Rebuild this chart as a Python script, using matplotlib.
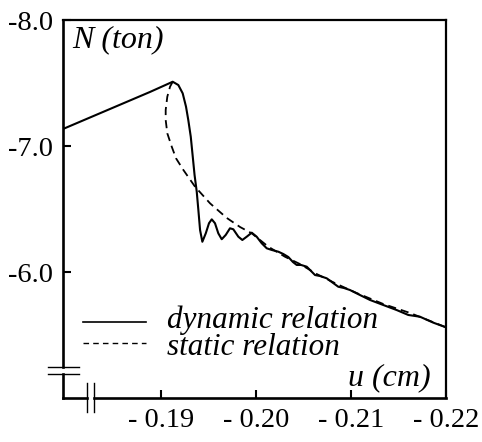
import matplotlib
matplotlib.use("Agg")
import matplotlib.pyplot as plt
from matplotlib.lines import Line2D

# ---- data ----
dyn_u = [-0.17968, -0.18884, -0.19123, -0.19182, -0.19228, -0.19263, -0.19287, -0.19313,
         -0.19334, -0.19353, -0.19376, -0.19393, -0.19411, -0.19435, -0.19471, -0.19505,
         -0.19534, -0.19568, -0.19603, -0.19639, -0.19681, -0.19726, -0.19761, -0.19814,
         -0.19856, -0.19902, -0.19955, -0.20007, -0.20060, -0.20113, -0.20165, -0.20235,
         -0.20287, -0.20340, -0.20389, -0.20428, -0.20474, -0.20534, -0.20621, -0.20674,
         -0.20744, -0.20866, -0.20926, -0.20989, -0.21095, -0.21200, -0.21340, -0.21481,
         -0.21603, -0.21726, -0.21866, -0.22000]
dyn_N = [-7.135, -7.429, -7.510, -7.484, -7.418, -7.312, -7.206, -7.074,
         -6.915, -6.770, -6.637, -6.492, -6.333, -6.240, -6.307, -6.387,
         -6.418, -6.387, -6.307, -6.260, -6.294, -6.347, -6.339, -6.280,
         -6.254, -6.280, -6.312, -6.280, -6.228, -6.188, -6.175, -6.161,
         -6.143, -6.119, -6.079, -6.056, -6.056, -6.042, -5.976, -5.968,
         -5.950, -5.883, -5.873, -5.857, -5.817, -5.778, -5.738, -5.698,
         -5.659, -5.645, -5.598, -5.561]

sta_u = [-0.19123, -0.19095, -0.19066, -0.19049, -0.19049, -0.19066, -0.19113, -0.19158,
         -0.19235, -0.19358, -0.19516, -0.19692, -0.19832, -0.19955, -0.20129, -0.20305,
         -0.20463, -0.20639, -0.20849, -0.21060, -0.21340, -0.21621, -0.22000]
sta_N = [-7.510, -7.471, -7.391, -7.286, -7.206, -7.101, -6.994, -6.902,
         -6.810, -6.677, -6.545, -6.429, -6.357, -6.307, -6.201, -6.121,
         -6.063, -5.984, -5.905, -5.833, -5.746, -5.675, -5.561]

x_ticks = [-0.19, -0.20, -0.21, -0.22]
x_tick_labels = ["- 0.19", "- 0.20", "- 0.21", "- 0.22"]
y_ticks = [-8.0, -7.0, -6.0]
y_tick_labels = ["-8.0", "-7.0", "-6.0"]

W, H = 482, 442
fig = plt.figure(figsize=(W / 100, H / 100), dpi=100)
L, R, T, B = 63, 446, 20, 398
ax = fig.add_axes([L / W, 1 - B / H, (R - L) / W, (B - T) / H])

FONT = "Liberation Serif"

ax.plot(dyn_u, dyn_N, color="black", lw=1.5, solid_joinstyle="round", solid_capstyle="round")
ax.plot(sta_u, sta_N, color="black", lw=1.3, dashes=(4.5, 2.8))

ax.set_xlim(-0.17968, -0.22)
ax.set_ylim(-5.0, -8.0)

ax.set_xticks(x_ticks)
ax.set_xticklabels(x_tick_labels, fontfamily=FONT, fontsize=20.5)
ax.set_yticks(y_ticks)
ax.set_yticklabels(y_tick_labels, fontfamily=FONT, fontsize=20.5)
ax.tick_params(axis="both", direction="in", length=6, width=1.5, pad=7)

for s in ["top", "right"]:
    ax.spines[s].set_linewidth(1.6)
ax.spines["left"].set_visible(False)
ax.spines["bottom"].set_visible(False)

def fx(px):
    return (px - L) / (R - L)

def fy(py):
    return (B - py) / (B - T)

kw = dict(transform=ax.transAxes, color="black", clip_on=False)
# broken left spine
ax.add_line(Line2D([0, 0], [fy(T), fy(367)], lw=1.9, **kw))
ax.add_line(Line2D([0, 0], [fy(374), 0], lw=1.9, **kw))
# broken bottom spine
ax.add_line(Line2D([0, fx(87)], [0, 0], lw=1.9, **kw))
ax.add_line(Line2D([fx(94), 1], [0, 0], lw=1.9, **kw))
# break marks
ax.add_line(Line2D([fx(48), fx(79)], [fy(367), fy(367)], lw=1.0, **kw))
ax.add_line(Line2D([fx(48), fx(79)], [fy(374), fy(374)], lw=1.0, **kw))
ax.add_line(Line2D([fx(87), fx(87)], [fy(383), fy(412)], lw=1.0, **kw))
ax.add_line(Line2D([fx(94), fx(94)], [fy(383), fy(412)], lw=1.0, **kw))

# axis labels
ax.text(fx(72), fy(47), "N (ton)", transform=ax.transAxes, fontfamily=FONT,
        fontstyle="italic", fontsize=23, ha="left", va="baseline")
ax.text(fx(348), fy(385), "u (cm)", transform=ax.transAxes, fontfamily=FONT,
        fontstyle="italic", fontsize=23, ha="left", va="baseline")

# legend
ax.add_line(Line2D([fx(83), fx(146)], [fy(322), fy(322)], lw=1.2, **kw))
ax.add_line(Line2D([fx(83), fx(146)], [fy(343), fy(343)], lw=1.0, dashes=(4, 3), **kw))
ax.text(fx(167), fy(328), "dynamic relation", transform=ax.transAxes, fontfamily=FONT,
        fontstyle="italic", fontsize=22.4, ha="left", va="baseline")
ax.text(fx(167), fy(355), "static relation", transform=ax.transAxes, fontfamily=FONT,
        fontstyle="italic", fontsize=22.4, ha="left", va="baseline")

fig.savefig("out.png", dpi=100)
